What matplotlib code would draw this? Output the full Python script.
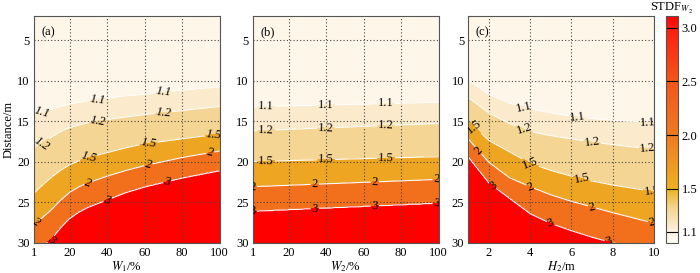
import numpy as np
import matplotlib
matplotlib.use("Agg")
import matplotlib.pyplot as plt
from matplotlib.colors import LinearSegmentedColormap, Normalize
from matplotlib.cm import ScalarMappable

plt.rcParams['font.family'] = ['Liberation Serif', 'DejaVu Serif']
plt.rcParams['mathtext.fontset'] = 'stix'
plt.rcParams['font.size'] = 9

levels = [1.1, 1.2, 1.5, 2, 3]

# depth (m) of each STDF contour read along x, panel (a): W1 (%)
a_x = [1, 5, 10, 15, 20, 25, 30, 40, 50, 60, 80, 100]
a_11 = [14.3, 14.0, 13.6, 13.2, 12.9, 12.7, 12.5, 12.2, 11.9, 11.7, 11.2, 10.8]
a_12 = [18.6, 17.8, 17.0, 16.3, 15.8, 15.5, 15.2, 14.8, 14.5, 14.2, 13.7, 13.2]
a_15 = [23.9, 23.0, 22.0, 21.1, 20.4, 19.9, 19.5, 18.9, 18.3, 17.8, 17.2, 16.6]
a_2 = [27.7, 27.0, 26.0, 24.8, 23.8, 23.1, 22.6, 21.8, 21.1, 20.5, 19.5, 18.7]
a_3 = [31.5, 30.5, 29.6, 28.2, 27.0, 26.2, 25.6, 24.7, 23.8, 23.1, 22.0, 21.1]

# panel (b): W2 (%)
b_x = [1, 100]
b_11 = [13.25, 12.7]
b_12 = [16.2, 15.3]
b_15 = [20.0, 19.4]
b_2 = [23.1, 22.2]
b_3 = [26.1, 25.1]

# panel (c): H2 (m)
c_x = [1, 2, 3, 4, 5, 6, 7, 8, 10]
c_11 = [10.0, 11.7, 12.8, 13.5, 14.0, 14.4, 14.7, 14.9, 15.2]
c_12 = [12.1, 14.0, 15.3, 16.3, 16.8, 17.2, 17.6, 17.9, 18.5]
c_15 = [15.0, 17.4, 18.8, 20.2, 21.1, 21.8, 22.4, 22.9, 23.7]
c_2 = [17.2, 20.1, 22.0, 23.1, 24.1, 24.9, 25.6, 26.3, 27.6]
c_3 = [19.4, 22.6, 24.5, 26.4, 27.6, 28.5, 29.3, 30.0, 31.0]

# x positions for the inline contour labels
a_lab = {1.1: [5, 35, 70], 1.2: [5, 35, 70], 1.5: [30, 62, 97], 2: [2, 30, 62, 95], 3: [10, 40, 72]}
b_lab = {1.1: [8, 40, 72], 1.2: [8, 40, 72], 1.5: [8, 40, 72], 2: [1, 34, 66, 99], 3: [1, 34, 66, 99]}
c_lab = {1.1: [3.7, 6.3, 9.7], 1.2: [3.7, 7, 9.7], 1.5: [1.3, 4, 6.5, 9.9], 2: [1.5, 4, 7, 9.9], 3: [2.2, 5, 7.8]}

fill_colors = ['#FEF6E9', '#FBEACB', '#F5D593', '#EDA522', '#F2701C', '#FF0000']


def build_field(xs, lines, xmax):
    gx = np.linspace(xs[0], xmax, 300)
    gd = np.linspace(0, 32, 400)
    dl = [np.interp(gx, xs, l) for l in lines]
    z = np.zeros((len(gd), len(gx)))
    for j in range(len(gx)):
        dep = [0] + [d[j] for d in dl] + [40]
        val = [1.0] + levels + [3.5]
        z[:, j] = np.interp(gd, dep, val)
    return gx, gd, z


fig = plt.figure(figsize=(7, 2.73), dpi=100)
lefts = [0.0486, 0.3614, 0.669]
panels = [
    (a_x, [a_11, a_12, a_15, a_2, a_3], a_lab, 100, '(a)', r'$W_1$/%', [1, 20, 40, 60, 80, 100], True),
    (b_x, [b_11, b_12, b_15, b_2, b_3], b_lab, 100, '(b)', r'$W_2$/%', [1, 20, 40, 60, 80, 100], False),
    (c_x, [c_11, c_12, c_15, c_2, c_3], c_lab, 10, '(c)', r'$H_2$/m', [2, 4, 6, 8, 10], False),
]

for left, (xs, lines, labs, xmax, tag, xl, xt, ital) in zip(lefts, panels):
    ax = fig.add_axes([left, 0.111, 0.2652, 0.8315])
    gx, gd, z = build_field(xs, lines, xmax)
    ax.contourf(gx, gd, z, levels=[0.9] + levels + [4], colors=fill_colors)
    cs = ax.contour(gx, gd, z, levels=levels, colors='white', linewidths=0.8)
    pos = []
    for i, lv in enumerate(levels):
        for x in labs[lv]:
            d = np.interp(x, xs, lines[i])
            if d < 30:
                pos.append((x, d))
    txts = ax.clabel(cs, levels, inline=True, fontsize=9, colors='black',
                     fmt=lambda v: '%g' % v, manual=pos, inline_spacing=1)
    if ital:
        for t in txts:
            t.set_fontstyle('italic')
    ax.set_xlim(xs[0], xmax)
    ax.set_ylim(30, 2)
    ax.set_xticks(xt)
    ax.set_yticks([5, 10, 15, 20, 25, 30])
    ax.grid(True, linestyle=(0, (1, 2)), color='#444444', linewidth=0.8)
    ax.tick_params(length=0, pad=3, labelsize=9)
    for s in ax.spines.values():
        s.set_color('#555555')
    ax.text(0.04, 0.955, tag, transform=ax.transAxes, va='top', ha='left', fontsize=9)
    ax.set_xlabel(xl, labelpad=0)
    if left == lefts[0]:
        ax.set_ylabel('Distance/m', labelpad=2)

# colorbar
cmap = LinearSegmentedColormap.from_list('stdf', [
    (0.0, '#FFFDF8'), (0.05, '#FCF2DE'), (0.15, '#F5D590'), (0.235, '#EDB21F'),
    (0.47, '#F07A20'), (0.71, '#F3561A'), (0.94, '#FF1E10'), (1.0, '#FF0000')])
cax = fig.add_axes([0.951, 0.111, 0.017, 0.8315])
cb = fig.colorbar(ScalarMappable(norm=Normalize(1.0, 3.11), cmap=cmap), cax=cax,
                  ticks=[1.1, 1.5, 2.0, 2.5, 3.0])
cb.ax.set_yticklabels(['1.1', '1.5', '2.0', '2.5', '3.0'])
cb.ax.tick_params(length=0, labelsize=9, pad=3)
for t in [1.1, 1.5, 2.0, 2.5, 3.0]:
    cb.ax.axhline(t, color='black', linewidth=0.8)
cb.outline.set_edgecolor('#555555')
cb.ax.set_title(r'STDF$_{W_2}$', fontsize=9, pad=3)

fig.savefig('out.png', dpi=100)
